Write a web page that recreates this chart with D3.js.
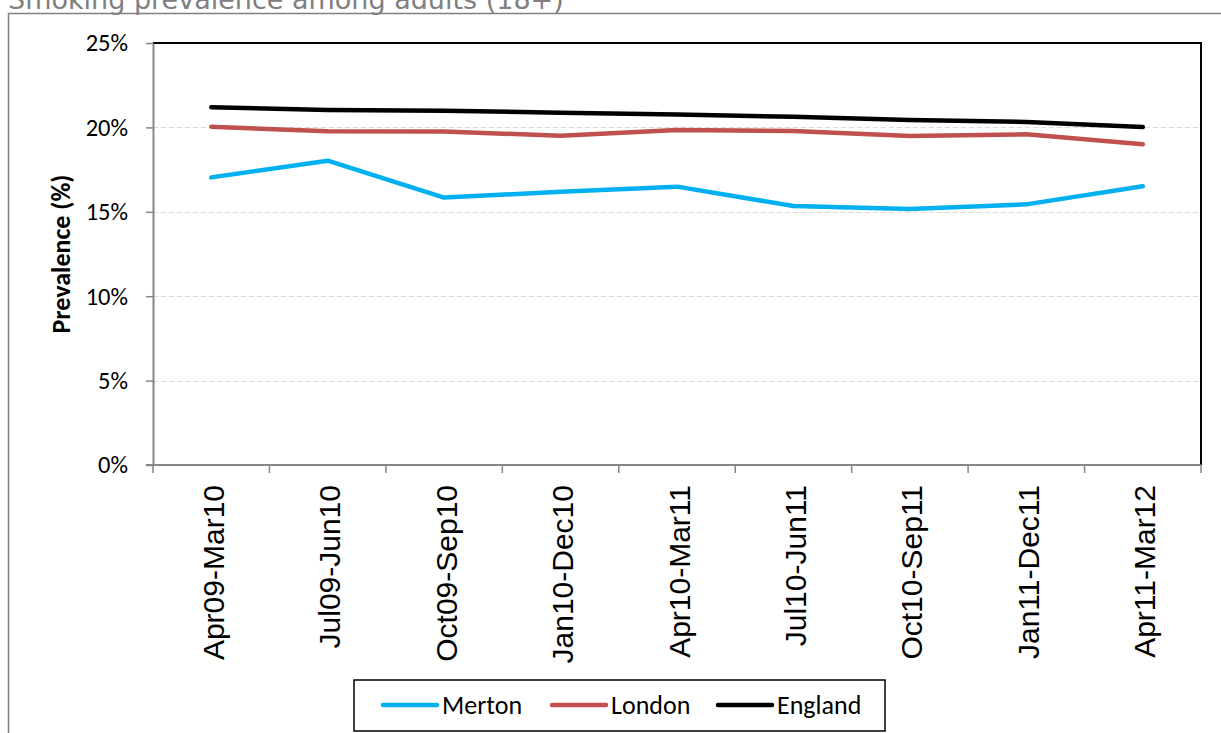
<!DOCTYPE html>
<html><head><meta charset="utf-8">
<script src="https://cdn.jsdelivr.net/npm/d3@7"></script>
<style>body{margin:0;background:#fff;overflow:hidden}svg{display:block}</style>
</head><body>
<svg id="c" width="1221" height="733"></svg>
<script>
const categories = ["Apr09-Mar10","Jul09-Jun10","Oct09-Sep10","Jan10-Dec10","Apr10-Mar11","Jul10-Jun11","Oct10-Sep11","Jan11-Dec11","Apr11-Mar12"];
const merton  = [17.04, 18.03, 15.84, 16.19, 16.49, 15.34, 15.17, 15.44, 16.51];
const london  = [20.04, 19.77, 19.75, 19.51, 19.85, 19.79, 19.49, 19.59, 19.0];
const england = [21.19, 21.03, 20.99, 20.87, 20.77, 20.63, 20.44, 20.32, 20.02];
const seriesNames = ["Merton","London","England"];
const yTicks = [0,5,10,15,20,25];
const titleText = "Smoking prevalence among adults (18+)";
const yTitle = "Prevalence (%)";

const colors = {Merton:"#00b0f0", London:"#c0504d", England:"#000000"};
const seriesData = {Merton:merton, London:london, England:england};
const font = "Carlito, Calibri, Lato, 'Liberation Sans', sans-serif";
const xfont = "'Liberation Sans', Arial, sans-serif";

const svg = d3.select("#c");
const L=153, R=1201, T=43, B=465;
const x = d3.scaleBand().domain(categories).range([L,R]).padding(0);
const y = d3.scaleLinear().domain([0,25]).range([B,T]);
const cx = c => x(c) + x.bandwidth()/2;

// outer frame + title
svg.append("path").attr("d",`M8.5,733 L8.5,13.5 L1221,13.5`).attr("fill","none").attr("stroke","#808080").attr("stroke-width",1.5);
svg.append("text").attr("x",8).attr("y",8.5).attr("font-family","'DejaVu Sans', Verdana, sans-serif")
  .attr("font-size",27).attr("fill","#808080").text(titleText);

// grid
svg.append("g").selectAll("line").data(yTicks.filter(t=>t>0&&t<25)).join("line")
  .attr("x1",L).attr("x2",R).attr("y1",d=>Math.round(y(d))+0.5).attr("y2",d=>Math.round(y(d))+0.5)
  .attr("stroke","#d9d9d9").attr("stroke-width",1.2).attr("stroke-dasharray","5,3");

// plot border top/right
svg.append("path").attr("d",`M${L},${T} L${R},${T} L${R},${B}`).attr("fill","none").attr("stroke","#000").attr("stroke-width",2);

// y axis
const ya = svg.append("g").attr("transform",`translate(${L},0)`)
  .call(d3.axisLeft(y).tickValues(yTicks).tickFormat(d=>d+"%").tickSizeInner(7).tickSizeOuter(0).tickPadding(18));
ya.select(".domain").attr("stroke","#868686").attr("stroke-width",2);
ya.selectAll(".tick line").attr("stroke","#868686").attr("stroke-width",1.5);
ya.selectAll(".tick text").attr("font-family",font).attr("font-size",24.5).attr("fill","#000");

// x axis line and ticks at boundaries
const bounds = categories.map(c=>x(c)).concat([R]);
svg.append("line").attr("x1",L-7).attr("x2",R).attr("y1",B).attr("y2",B).attr("stroke","#868686").attr("stroke-width",2);
svg.append("g").selectAll("line").data(bounds).join("line")
  .attr("x1",d=>d).attr("x2",d=>d).attr("y1",B).attr("y2",B+8).attr("stroke","#868686").attr("stroke-width",1.5);
svg.append("g").selectAll("text").data(categories).join("text")
  .attr("transform",d=>`translate(${cx(d)+2},485) rotate(-90)`)
  .attr("text-anchor","end").attr("dy","0.35em")
  .attr("font-family",xfont).attr("font-size",30).attr("fill","#000").text(d=>d);

// y title
svg.append("text").attr("transform",`translate(70,${(T+B)/2}) rotate(-90)`).attr("text-anchor","middle")
  .attr("font-family",font).attr("font-size",26).attr("font-weight","bold").text(yTitle);

// lines
const line = d3.line().x((d,i)=>cx(categories[i])).y(d=>y(d));
["Merton","London","England"].forEach(n=>{
  svg.append("path").datum(seriesData[n]).attr("d",line).attr("fill","none")
    .attr("stroke",colors[n]).attr("stroke-width",4.5).attr("stroke-linecap","round").attr("stroke-linejoin","round");
});

// legend
svg.append("rect").attr("x",354).attr("y",680).attr("width",531).attr("height",51).attr("fill","#fff").attr("stroke","#000").attr("stroke-width",1.5);
const legX = [383,552,718];
seriesNames.forEach((n,i)=>{
  svg.append("line").attr("x1",legX[i]).attr("x2",legX[i]+54).attr("y1",705).attr("y2",705)
    .attr("stroke",colors[n]).attr("stroke-width",4.5).attr("stroke-linecap","round");
  svg.append("text").attr("x",legX[i]+59).attr("y",705).attr("dy","0.35em")
    .attr("font-family",font).attr("font-size",26).attr("fill","#000").text(n);
});
</script>
</body></html>
